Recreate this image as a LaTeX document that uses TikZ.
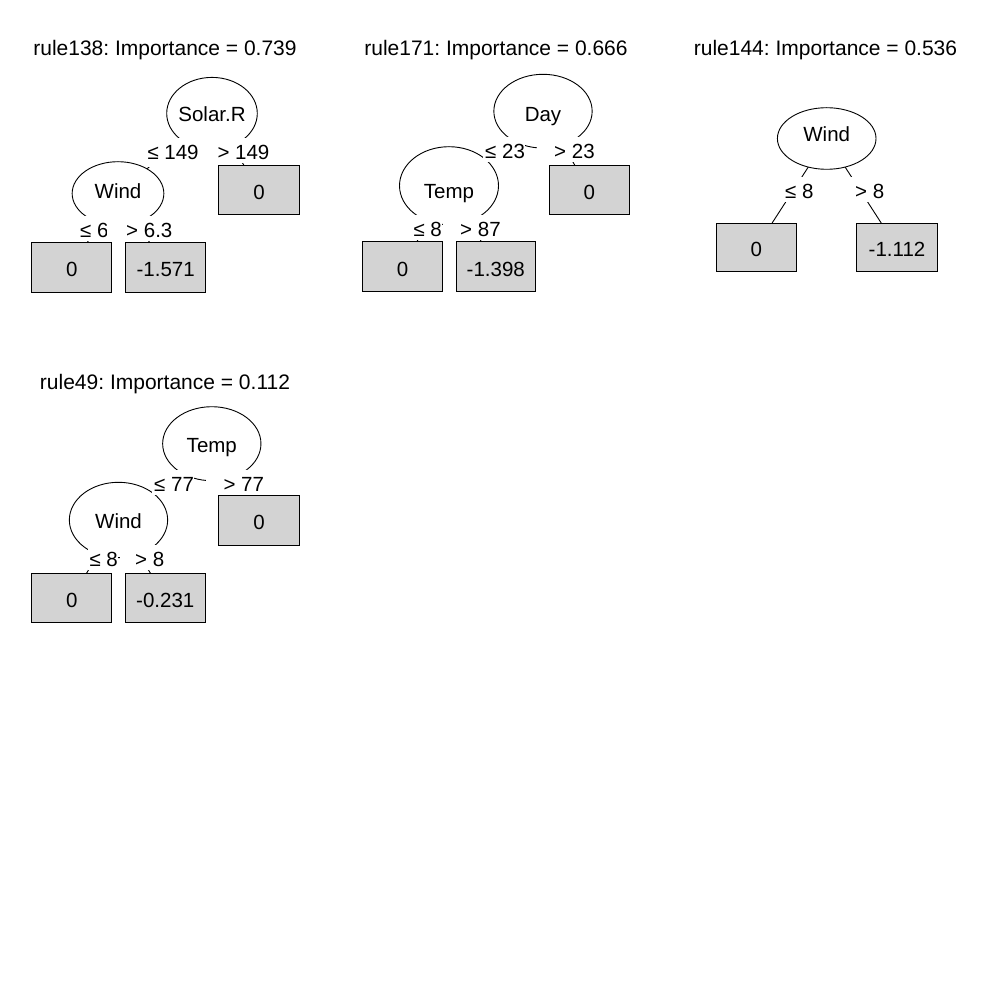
\documentclass[tikz,border=0pt]{standalone}
\usepackage{fontspec}
\setmainfont{Liberation Sans}
\frenchspacing
\usetikzlibrary{shapes.geometric,backgrounds}
\definecolor{leafgray}{HTML}{D3D3D3}
\tikzset{
  ttl/.style={anchor=base, inner sep=0pt, font=\fontsize{21}{24}\selectfont},
  inode/.style={ellipse, draw, fill=white, line width=0.9pt, inner sep=0pt, font=\fontsize{20.5}{24}\selectfont},
  leaf/.style={rectangle, draw, fill=leafgray, line width=0.9pt, inner sep=0pt, font=\fontsize{20.5}{24}\selectfont, text height=18.7pt, text depth=0pt},
  elab/.style={anchor=base west, fill=white, inner xsep=0pt, inner ysep=2.5pt, text height=19pt, text depth=1pt, font=\fontsize{20.5}{24}\selectfont},
  conn/.style={line width=0.9pt},
}
\begin{document}
\begin{tikzpicture}[x=1pt,y=-1pt]
\useasboundingbox (0,0) rectangle (992,992);
% ---------- tree 1 ----------
\node[ttl] (t1) at (165,56) {rule138: Importance = 0.739};
\node[inode, minimum width=90.6pt, minimum height=72pt, text height=15.7pt, text depth=0pt] (s1) at (212,113.4) {\makebox[0pt]{Solar.R}};
\node[inode, minimum width=91.7pt, minimum height=63.6pt, text height=14.7pt, text depth=4pt] (w1) at (118,193.5) {\makebox[0pt]{Wind}};
\node[leaf, minimum width=80.6pt, minimum height=49pt] (a1) at (259,189.8) {0};
\node[leaf, minimum width=80pt, minimum height=50pt] (b1) at (71.7,267.3) {0};
\node[leaf, minimum width=80pt, minimum height=50pt] (c1) at (165.7,267.3) {-1.571};
\node[elab, text depth=5pt] (l1a) at (145.3,159.3) {\hspace{2pt}≤ 149};
\node[elab] (l1b) at (198.3,159.3) {\hspace{19pt}> 149\hspace{2pt}};
\node[elab] (l1c) at (78,237.3) {\hspace{2pt}≤ 6};
\node[elab] (l1d) at (107,237.3) {\hspace{19pt}> 6.3\hspace{2pt}};
% ---------- tree 2 ----------
\node[ttl] (t2) at (496,56) {rule171: Importance = 0.666};
\node[inode, minimum width=98.3pt, minimum height=73.8pt, text height=20.7pt, text depth=0pt] (d2) at (543,111.2) {\makebox[0pt]{Day}};
\node[inode, minimum width=99pt, minimum height=78pt, text height=24.7pt, text depth=0pt] (m2) at (449,185.7) {\makebox[0pt]{Temp}};
\node[leaf, minimum width=80pt, minimum height=49pt] (a2) at (589.3,189.8) {0};
\node[leaf, minimum width=79.6pt, minimum height=50pt] (b2) at (402.5,266.7) {0};
\node[leaf, minimum width=79.7pt, minimum height=50pt] (c2) at (495.8,266.7) {-1.398};
\node[elab] (l2a) at (483,158.3) {\hspace{2pt}≤ 23};
\node[elab] (l2b) at (537,158.3) {\hspace{17pt}> 23\hspace{2pt}};
\node[elab] (l2c) at (411.3,236.7) {\hspace{2pt}≤ 8};
\node[elab] (l2d) at (442.5,236.7) {\hspace{17.5pt}> 87\hspace{2pt}};
% ---------- tree 3 ----------
\node[ttl] (t3) at (825.5,56) {rule144: Importance = 0.536};
\node[inode, minimum width=98.6pt, minimum height=61.6pt, text height=14.7pt, text depth=9.4pt] (w3) at (826.7,138.5) {\makebox[0pt]{Wind}};
\node[leaf, minimum width=79.3pt, minimum height=48.4pt] (a3) at (756.3,247.5) {0};
\node[leaf, minimum width=80.6pt, minimum height=48.4pt] (b3) at (897,247.5) {-1.112};
\node[elab] (l3a) at (783,198.3) {\hspace{2pt}≤ 8};
\node[elab] (l3b) at (840,198.3) {\hspace{15pt}> 8\hspace{2pt}};
% ---------- tree 4 ----------
\node[ttl] (t4) at (165,389) {rule49: Importance = 0.112};
\node[inode, minimum width=98.3pt, minimum height=74pt, text height=17.3pt, text depth=0pt] (m4) at (211.8,443.7) {\makebox[0pt]{Temp}};
\node[inode, minimum width=98.3pt, minimum height=75.4pt, text height=16.1pt, text depth=0pt] (w4) at (118.5,520) {\makebox[0pt]{Wind}};
\node[leaf, minimum width=80.6pt, minimum height=50.7pt] (a4) at (259,520.3) {0};
\node[leaf, minimum width=80pt, minimum height=49.4pt] (b4) at (71.7,598) {0};
\node[leaf, minimum width=80pt, minimum height=49.4pt] (c4) at (165.3,598) {-0.231};
\node[elab] (l4a) at (152,491) {\hspace{2pt}≤ 77};
\node[elab] (l4b) at (205.3,491) {\hspace{18pt}> 77\hspace{2pt}};
\node[elab] (l4c) at (87.3,566.7) {\hspace{2pt}≤ 8};
\node[elab] (l4d) at (120,566.7) {\hspace{15pt}> 8\hspace{2pt}};
% ---------- connectors ----------
\begin{scope}[on background layer]
\fill[white] (0,0) rectangle (992,992);
\draw[conn] (s1.center) -- (w1.center);
\draw[conn] (s1.center) -- (a1.center);
\draw[conn] (w1.center) -- (b1.center);
\draw[conn] (w1.center) -- (c1.center);
\draw[conn] (d2.center) -- (m2.center);
\draw[conn] (d2.center) -- (a2.center);
\draw[conn] (m2.center) -- (b2.center);
\draw[conn] (m2.center) -- (c2.center);
\draw[conn] (w3.center) -- (a3.center);
\draw[conn] (w3.center) -- (b3.center);
\draw[conn] (m4.center) -- (w4.center);
\draw[conn] (m4.center) -- (a4.center);
\draw[conn] (w4.center) -- (b4.center);
\draw[conn] (w4.center) -- (c4.center);
\end{scope}
\end{tikzpicture}
\end{document}
